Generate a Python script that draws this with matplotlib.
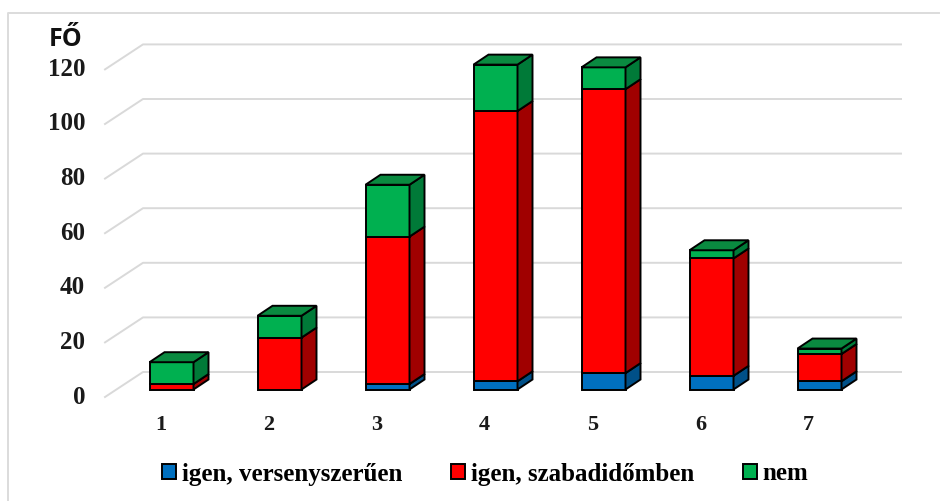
import matplotlib
matplotlib.use('Agg')
import matplotlib.pyplot as plt
from matplotlib.patches import Patch

kategoriak = ['1', '2', '3', '4', '5', '6', '7']
verseny = [0, 0, 2, 3, 6, 5, 3]
szabadido = [2, 19, 54, 99, 104, 43, 10]
nem = [8, 8, 19, 17, 8, 3, 2]
y_tickek = [0, 20, 40, 60, 80, 100, 120]
nevek = ['igen, versenyszerűen', 'igen, szabadidőmben', 'nem']

szinek = ['#0070C0', '#FF0000', '#00B050']
oldal = ['#005088', '#A00000', '#007A38']
teto = '#0A8A40'

W, H = 940, 501
PX_X = 108.0    # egy kategoria pixelben
PX_Y = 2.73     # egy fo pixelben
X0, Y0 = 171.5, 389.5   # 1. oszlop kozepe, alapvonal


def dx(p):
    return p / PX_X


def dy(p):
    return p / PX_Y


fig = plt.figure(figsize=(W / 100, H / 100), dpi=100)
ax = fig.add_axes([0, 0, 1, 1])
ax.set_xlim(1 - X0 / PX_X, 1 + (W - X0) / PX_X)
ax.set_ylim((Y0 - H) / PX_Y, Y0 / PX_Y)
ax.axis('off')

# keret
ax.plot([1 - dx(X0 - 8), 1 - dx(X0 - 8), 1 + dx(W - X0 - 1)],
        [-dy(H - Y0), dy(Y0 - 13), dy(Y0 - 13)], color='#dcdcdc', lw=1.4, zorder=1)

# racs: padlo szele es hatso vonal
for t in y_tickek:
    xs = [1 - dx(X0 - 105), 1 - dx(X0 - 143), 1 + dx(901 - X0)]
    ys = [t - dy(7.5), t + dy(17.5), t + dy(17.5)]
    ax.plot(xs, ys, color='#d9d9d9', lw=1.4, zorder=1)
    ax.text(1 - dx(X0 - 85), t - dy(7.5), str(t), ha='right', va='center',
            family='Liberation Serif', weight='bold', fontsize=18, color='#1a1a1a')

szel = dx(44)
mx, my = dx(15), dy(10)
for i, k in enumerate(kategoriak):
    x = i + 1
    alj = 0
    for j, ertek in enumerate([verseny[i], szabadido[i], nem[i]]):
        if ertek == 0:
            continue
        ax.bar(x, ertek, szel, bottom=alj, color=szinek[j], edgecolor='black', lw=1.4, zorder=3)
        jobb = x + szel / 2
        ax.fill([jobb, jobb + mx, jobb + mx, jobb],
                [alj, alj + my, alj + ertek + my, alj + ertek],
                facecolor=oldal[j], edgecolor='black', lw=1.4, zorder=3)
        alj += ertek
    bal = x - szel / 2
    ax.fill([bal, bal + mx, bal + szel + mx, bal + szel],
            [alj, alj + my, alj + my, alj],
            facecolor=teto, edgecolor='black', lw=1.4, zorder=3)
    ax.text(x - dx(11), -dy(36), k, ha='center', va='center',
            family='Liberation Serif', weight='bold', fontsize=16, color='#1a1a1a')

ax.text(1 - dx(X0 - 66), dy(Y0 - 40), 'FŐ', ha='center', va='center',
        family='Open Sans', weight='bold', fontsize=18, color='#111111')

kezek = [Patch(facecolor=s, edgecolor='black', lw=1.4) for s in szinek]
ax.legend(kezek, nevek, ncols=3, frameon=False, loc='center',
          bbox_to_anchor=(485 / W, 1 - 474 / H), handlelength=0.56, handleheight=0.56,
          handletextpad=0.24, columnspacing=1.95,
          prop={'family': 'Liberation Serif', 'weight': 'bold', 'size': 18})

fig.savefig('out.png', dpi=100, facecolor='white')
